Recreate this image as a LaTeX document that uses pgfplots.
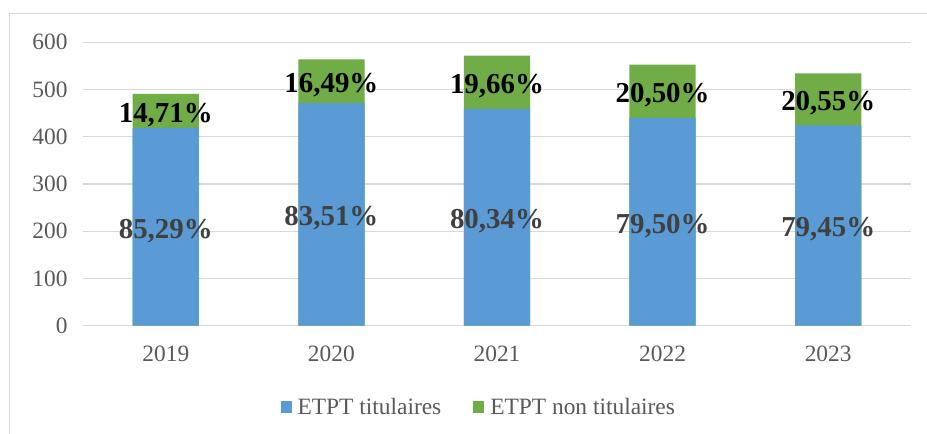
\documentclass[border=0pt]{standalone}
\usepackage{pgfplots}
\pgfplotsset{compat=1.18}
\usepackage{pgfplotstable}
\usepackage{fontspec}
\setmainfont{Liberation Serif}
\definecolor{bluebar}{HTML}{5B9BD5}
\definecolor{greenbar}{HTML}{70AD47}
\definecolor{gridc}{HTML}{D9D9D9}
\definecolor{tickc}{HTML}{595959}
\definecolor{labc}{HTML}{404040}

\pgfplotstableread{
x tit non total
0 419 72 491
1 471 93 564
2 459 113 572
3 440 113 553
4 424 110 534
}\bars
\pgfplotstableread{
x y lab
0 209.5 85,29
1 235.5 83,51
2 229.5 80,34
3 220 79,50
4 212 79,45
}\labtit
\pgfplotstableread{
x y lab
0 455 14,71
1 517.5 16,49
2 515.5 19,66
3 496.5 20,50
4 479 20,55
}\labnon

\begin{document}
\begin{tikzpicture}
\path[use as bounding box] (-83bp,-108.3bp) rectangle (844bp,325.7bp);
\draw[gridc, line width=1bp] (-73.5bp,-108.3bp) -- (-73.5bp,312.2bp) -- (844bp,312.2bp);
\begin{axis}[
  at={(0,0)}, anchor=south west,
  scale only axis, width=828bp, height=283.4bp,
  xmin=-0.5, xmax=4.5, ymin=0, ymax=600,
  xtick={0,1,2,3,4}, xticklabels={2019,2020,2021,2022,2023},
  ytick={0,100,200,300,400,500,600},
  /pgf/number format/assume math mode=true,
  ymajorgrids, grid style={gridc, line width=1.3bp},
  axis line style={draw=none}, major tick length=0pt,
  tick label style={font=\color{tickc}\fontsize{23.5}{28}\selectfont},
  yticklabel style={xshift=-12bp},
  xticklabel style={yshift=-17bp},
  clip=false,
  legend style={at={(0.478,-0.287)}, anchor=center, draw=none, fill=none,
    legend columns=2, font=\color{tickc}\fontsize{23.5}{28}\selectfont,
    /tikz/every odd column/.append style={column sep=4bp},
    /tikz/every even column/.append style={column sep=30bp}},
  legend image code/.code={\fill[#1] (0bp,-6bp) rectangle (11bp,6bp);},
]
\addplot[ybar, bar width=0.4, bar shift=0pt, fill=greenbar, draw=none, forget plot] table[x=x,y=total]{\bars};
\addplot[ybar, bar width=0.4, bar shift=0pt, fill=bluebar, draw=none, forget plot] table[x=x,y=tit]{\bars};
\addplot[only marks, mark=none, forget plot, nodes near coords={\pgfplotspointmeta\%}, point meta=explicit symbolic,
  nodes near coords style={anchor=center, yshift=-4bp, font=\fontsize{29}{34}\selectfont\bfseries, text=labc}]
  table[x=x,y=y,meta=lab]{\labtit};
\addplot[only marks, mark=none, forget plot, nodes near coords={\pgfplotspointmeta\%}, point meta=explicit symbolic,
  nodes near coords style={anchor=center, yshift=-4bp, font=\fontsize{29}{34}\selectfont\bfseries, text=black}]
  table[x=x,y=y,meta=lab]{\labnon};
\addlegendimage{fill=bluebar, draw=none}
\addlegendentry{ETPT titulaires}
\addlegendimage{fill=greenbar, draw=none}
\addlegendentry{ETPT non titulaires}
\end{axis}
\end{tikzpicture}
\end{document}
